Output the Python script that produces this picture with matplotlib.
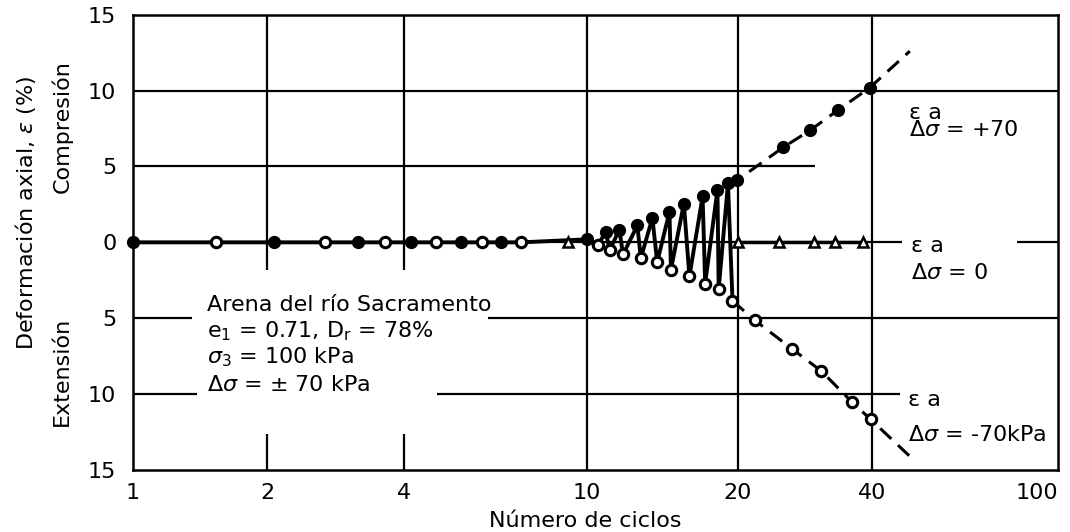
import numpy as np
import matplotlib.pyplot as plt

plt.rcParams['font.family'] = ['DejaVu Sans']
plt.rcParams['mathtext.fontset'] = 'dejavusans'

# eje x: el original no es log pura, marcas y su posicion relativa
x_ticks = [1, 2, 4, 10, 20, 40, 100]
x_tick_pos = [0, 134, 271, 454, 605, 739, 925]
x_labels = ['1', '2', '4', '10', '20', '40', '100']
y_ticks = [-15, -10, -5, 0, 5, 10, 15]

# ciclos hasta 20: picos de compresion (llenos) y extension (vacios)
comp_N = [1, 2.07, 3.17, 4.14, 5.32, 6.5, 10, 10.9, 11.6, 12.6, 13.5, 14.6, 15.6, 17.0, 18.2, 19.1]
comp_eps = [0, 0, 0, 0, 0, 0, 0.2, 0.68, 0.83, 1.12, 1.6, 2.0, 2.55, 3.03, 3.47, 3.88]
ext_N = [1.54, 2.68, 3.63, 4.70, 5.91, 7.2, 10.5, 11.1, 11.8, 12.8, 13.8, 14.7, 16.0, 17.2, 18.3, 19.5]
ext_eps = [0, 0, 0, 0, 0, 0, -0.2, -0.5, -0.8, -1.05, -1.3, -1.8, -2.24, -2.72, -3.1, -3.85]

# despues de 20 ciclos
comp2_N = [19.9, 25.3, 29.0, 33.6, 39.5]
comp2_eps = [4.08, 6.27, 7.37, 8.73, 10.18]
ext2_N = [21.8, 26.4, 30.8, 36.0, 39.7]
ext2_eps = [-5.13, -7.0, -8.49, -10.5, -11.66]
# final de las rectas de trazos
comp_end = (48.2, 12.6)
ext_end = (48.2, -14.1)

# delta sigma = 0
tri_N = [9.1, 20, 24.7, 29.6, 33.0, 38.1]
tri_eps = [0, 0, 0, 0, 0, 0]

lt = np.log10(x_ticks)


def fwd(x):
    x = np.clip(np.asarray(x, dtype=float), 1e-6, None)
    return np.interp(np.log10(x), lt, x_tick_pos)


def inv(p):
    return 10 ** np.interp(p, x_tick_pos, lt)


fig = plt.figure(figsize=(10.7, 5.32), dpi=100)
ax = fig.add_axes([0.1243, 0.1165, 0.8645, 0.8559])
ax.set_xscale('function', functions=(fwd, inv))
ax.set_xlim(1, 100)
ax.set_ylim(-15, 15)

# cuadricula (con huecos para los textos)
gk = dict(color='black', lw=1.6, zorder=1)
for n in x_ticks[1:3]:
    ax.vlines(n, -1.8, 15, **gk)
    ax.vlines(n, -15, -12.6, **gk)
for n in x_ticks[3:6]:
    ax.vlines(n, -15, 15, **gk)
ax.hlines(10, 1, 100, **gk)
ax.hlines(5, 1, 29.8, **gk)
ax.hlines(0, 1, 46.4, **gk)
ax.hlines(0, 81.7, 100, **gk)
ax.hlines(-5, 1, 1.36, **gk)
ax.hlines(-5, 6.1, 100, **gk)
ax.hlines(-10, 1, 1.39, **gk)
ax.hlines(-10, 4.72, 45.9, **gk)

# zigzag
zz_N, zz_eps = [], []
for i in range(len(comp_N)):
    zz_N += [comp_N[i], ext_N[i]]
    zz_eps += [comp_eps[i], ext_eps[i]]
ax.plot(zz_N, zz_eps, color='black', lw=2.8, zorder=2)

# rectas de trazos
ax.plot([comp_N[-1]] + comp2_N + [comp_end[0]], [comp_eps[-1]] + comp2_eps + [comp_end[1]],
        color='black', lw=2.2, ls=(0, (5, 3)), zorder=2)
ax.plot([ext_N[-1]] + ext2_N + [ext_end[0]], [ext_eps[-1]] + ext2_eps + [ext_end[1]],
        color='black', lw=2.2, ls=(0, (5, 3)), zorder=2)
ax.plot(tri_N[1:], tri_eps[1:], color='black', lw=2.5, zorder=2)

# marcadores
ax.plot(comp_N + comp2_N, comp_eps + comp2_eps, 'o', color='black', ms=8.5, zorder=3, clip_on=False)
ax.plot(ext_N + ext2_N, ext_eps + ext2_eps, 'o', mfc='white', mec='black', mew=2.2, ms=7.5, zorder=3)
ax.plot(tri_N, tri_eps, '^', mfc='white', mec='black', mew=1.8, ms=6.5, zorder=3)

# ejes
for s in ax.spines.values():
    s.set_linewidth(1.8)
ax.set_xticks(x_ticks)
ax.set_xticklabels(x_labels)
ax.set_yticks(y_ticks)
ax.set_yticklabels([str(abs(v)) for v in y_ticks])
ax.tick_params(length=0, labelsize=16)
ax.tick_params(axis='y', pad=12)
ax.tick_params(axis='x', pad=9)
ax.get_xticklabels()[-1].set_ha('right')
ax.minorticks_off()

ax.set_xlabel('Número de ciclos', fontsize=16)
ax.xaxis.set_label_coords(0.489, -0.09)
fig.text(26 / 1070, 1 - 213 / 532, r'Deformación axial, $\varepsilon$ (%)', rotation=90,
         ha='center', va='center', fontsize=16)
fig.text(62 / 1070, 1 - 127 / 532, 'Compresión', rotation=90, ha='center', va='center', fontsize=16)
fig.text(62 / 1070, 1 - 371 / 532, 'Extensión', rotation=90, ha='center', va='center', fontsize=16)

# textos
tk = dict(fontsize=16, va='center', ha='left')
ax.text(1.47, -4.14, 'Arena del río Sacramento', **tk)
ax.text(1.47, -5.85, r'e$_1$ = 0.71, D$_\mathrm{r}$ = 78%', **tk)
ax.text(1.47, -7.57, r'$\sigma_3$ = 100 kPa', **tk)
ax.text(1.47, -9.41, r'$\Delta\sigma$ = ± 70 kPa', **tk)

ax.text(48, 8.55, 'ε a', **tk)
ax.text(48, 7.37, r'$\Delta\sigma$ = +70', **tk)
ax.text(48.4, -0.26, 'ε a', **tk)
ax.text(48.4, -2.04, r'$\Delta\sigma$ = 0', **tk)
ax.text(47.7, -10.4, 'ε a', **tk)
ax.text(47.7, -12.7, r'$\Delta\sigma$ = -70kPa', **tk)

fig.savefig('out.png', dpi=100)
